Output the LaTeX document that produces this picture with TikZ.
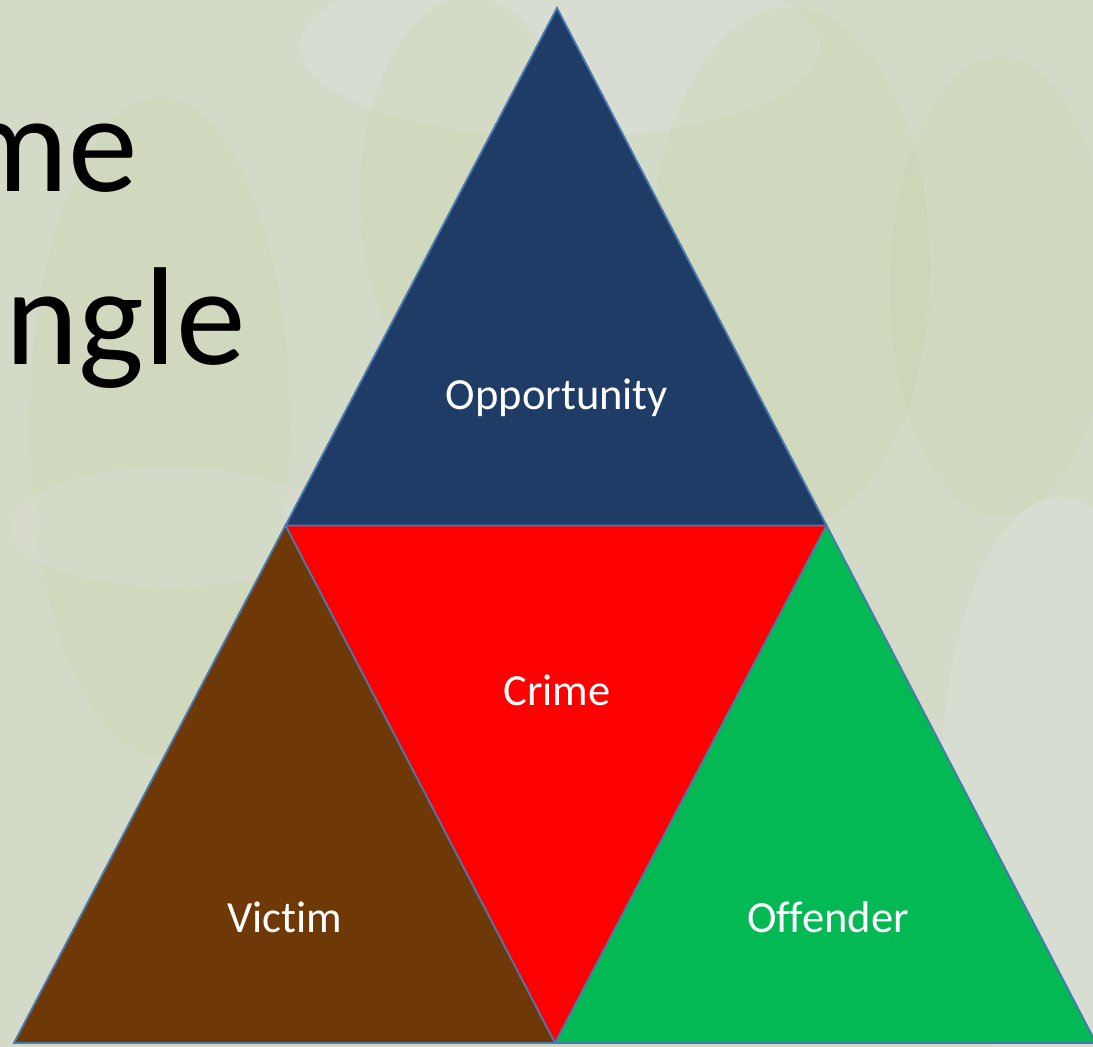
\documentclass[tikz,border=0pt]{standalone}
\usepackage{fontspec}
\setmainfont[Ligatures=CommonOff]{Carlito}
\usepackage{tkz-euclide}
\definecolor{bgpale}{HTML}{D3DAC8}
\definecolor{leafgreen}{HTML}{CAD4A8}
\definecolor{leafgrey}{HTML}{DDE0DC}
\definecolor{oppblue}{HTML}{1E3C65}
\definecolor{crimered}{HTML}{FF0000}
\definecolor{victimbrown}{HTML}{6E3906}
\definecolor{offgreen}{HTML}{02B954}
\definecolor{edgeblue}{HTML}{4A78B0}
\tikzset{
    edge/.style={draw=edgeblue, line width=1.6pt, line join=miter},
    lbl/.style={text=white, font=\fontsize{38}{44}\selectfont, inner sep=0pt},
    title/.style={text=black, font=\fontsize{119}{140}\selectfont, inner sep=0pt}
}

\begin{document}
\begin{tikzpicture}[x=0.03cm, y=0.03cm]
    \useasboundingbox (0,0) rectangle (1093,1047);
    \fill[bgpale] (0,0) rectangle (1093,1047);
    % blurred leaves behind
    \fill[leafgrey, opacity=0.5] (560,1000) ellipse (260 and 90);
    \fill[leafgreen, opacity=0.3] (160,620) ellipse (130 and 330);
    \fill[leafgreen, opacity=0.3] (470,850) ellipse (110 and 200);
    \fill[leafgreen, opacity=0.3] (790,780) ellipse (140 and 260);
    \fill[leafgreen, opacity=0.25] (1000,760) ellipse (110 and 230);
    \fill[leafgrey, opacity=0.5] (1060,250) ellipse (120 and 300);
    \fill[leafgrey, opacity=0.3] (170,520) ellipse (160 and 60);
    \tkzDefPoints{557/1039/A, 14/4/B, 1096/4/C}
    \tkzDefMidPoint(A,B) \tkzGetPoint{D}
    \tkzDefMidPoint(A,C) \tkzGetPoint{E}
    \tkzDefMidPoint(B,C) \tkzGetPoint{F}
    \fill[oppblue] (A) -- (D) -- (E) -- cycle;
    \fill[crimered] (D) -- (E) -- (F) -- cycle;
    \fill[victimbrown] (D) -- (B) -- (F) -- cycle;
    \fill[offgreen] (E) -- (F) -- (C) -- cycle;
    \tkzDrawPolygon[edge](A,D,E)
    \tkzDrawPolygon[edge](D,B,F)
    \tkzDrawPolygon[edge](E,F,C)
    \node[title, anchor=base east] (line1) at (138,855) {me};
    \node[title, anchor=base west] (line2) at (5,682) {ngle};
    \node[lbl] (opp) at (557,649) {Opportunity};
    \node[lbl] (crime) at (557,357) {Crime};
    \node[lbl] (victim) at (285,130) {Victim};
    \node[lbl] (offender) at (828,130) {Offender};
\end{tikzpicture}
\end{document}
